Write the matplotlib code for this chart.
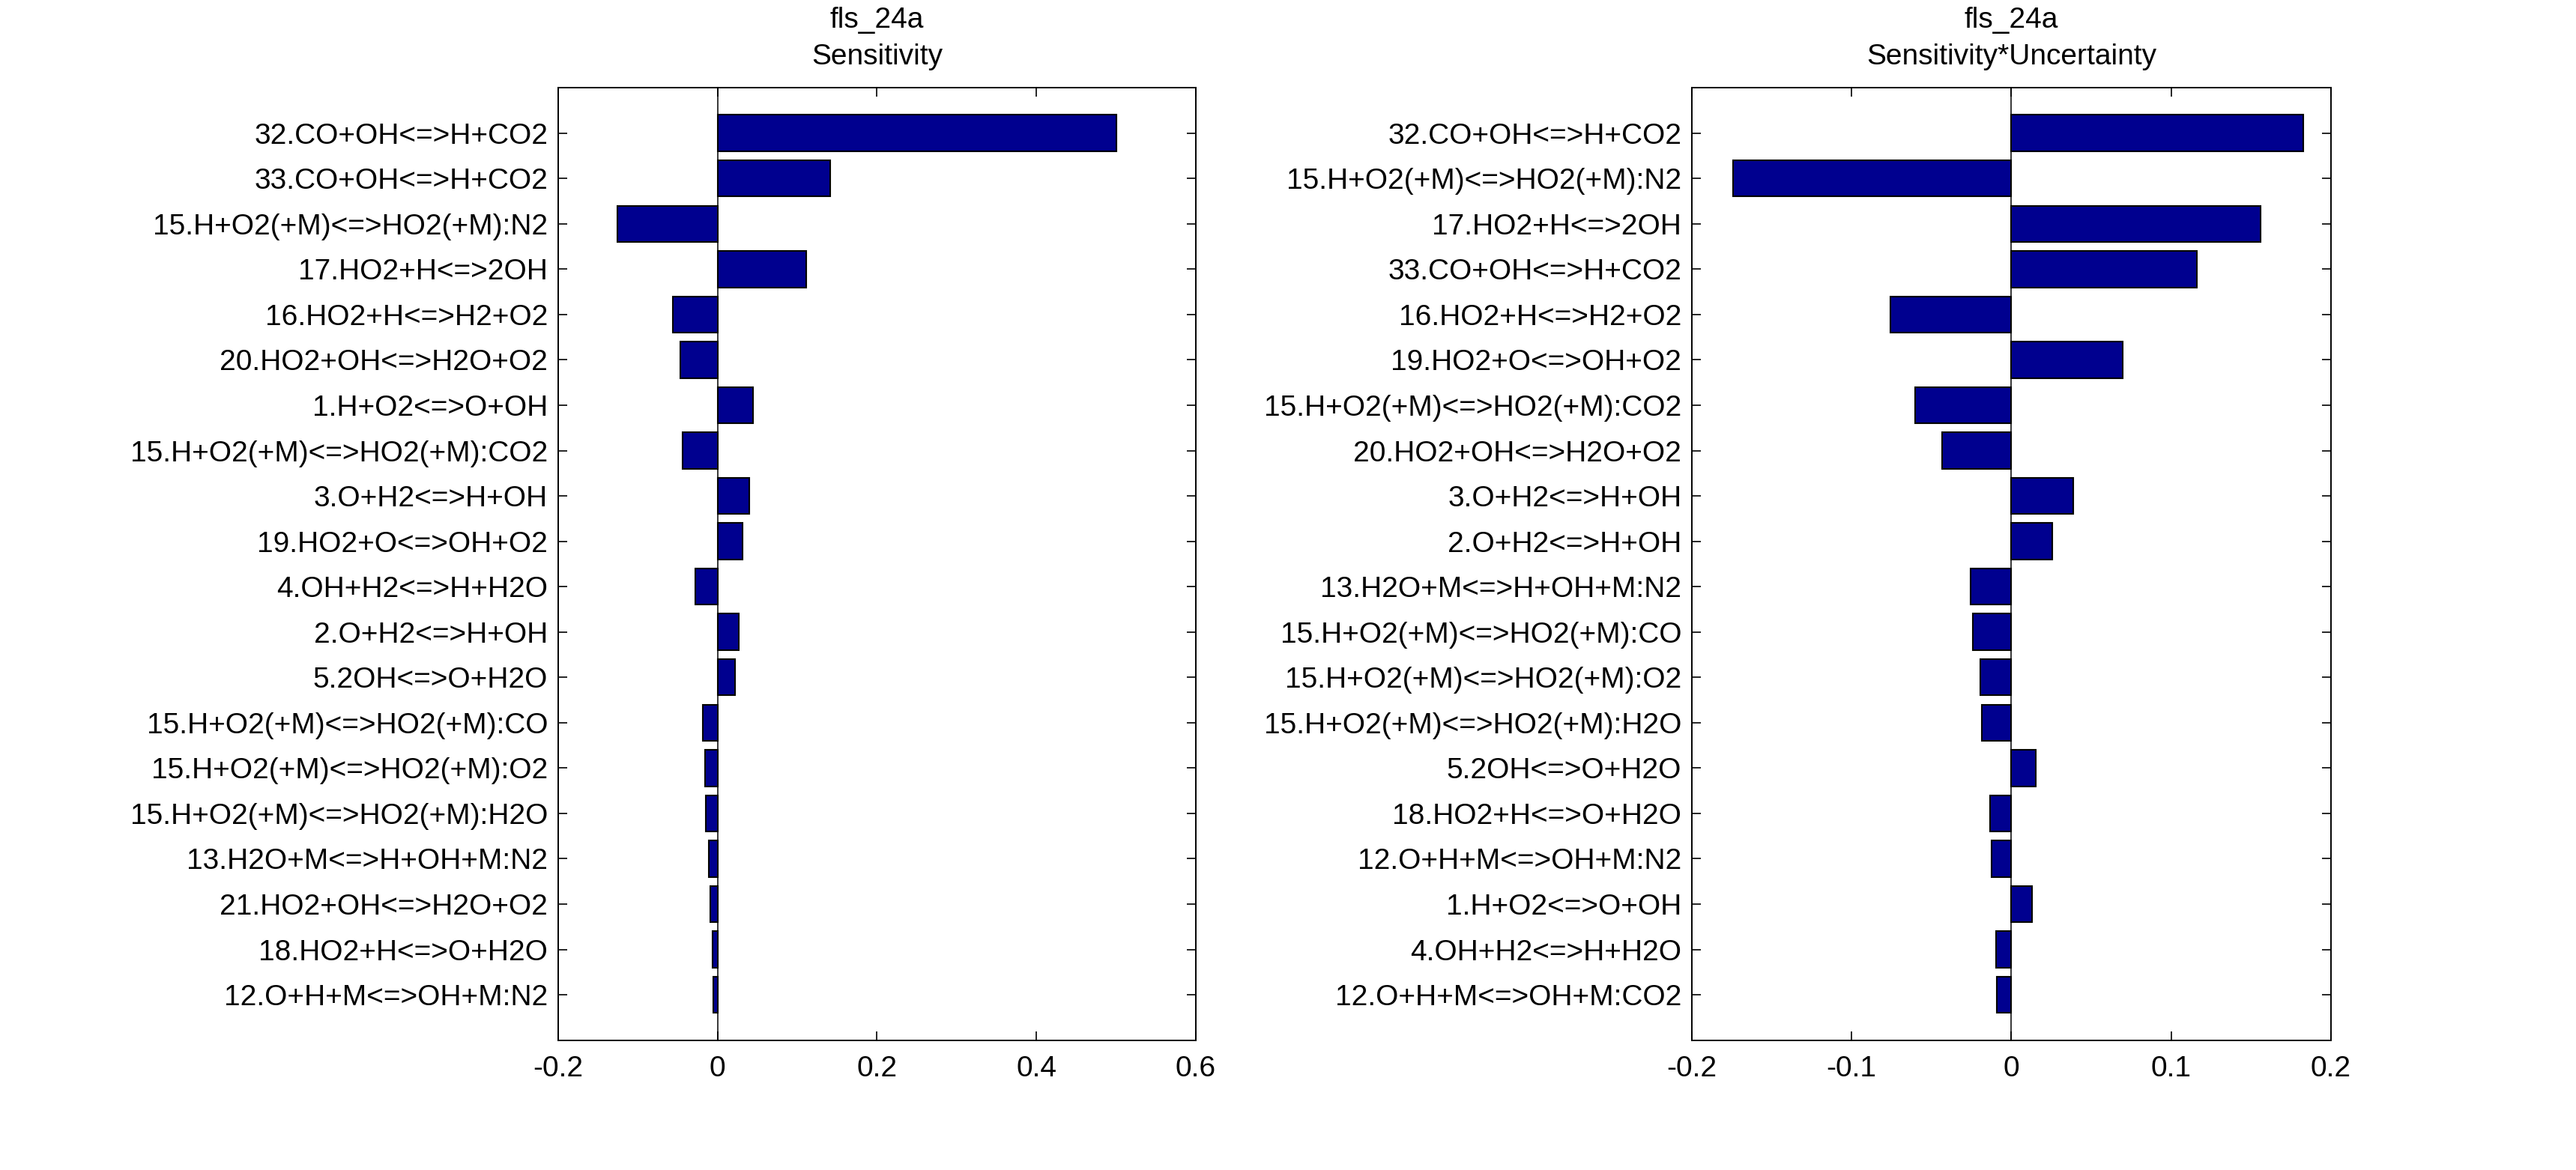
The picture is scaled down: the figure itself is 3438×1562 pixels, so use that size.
import numpy as np
import matplotlib
matplotlib.use("Agg")
import matplotlib.pyplot as plt

plt.rcParams['font.family'] = ['Liberation Sans', 'DejaVu Sans']

# left panel: Sensitivity
sens_labels = [
    "32.CO+OH<=>H+CO2", "33.CO+OH<=>H+CO2", "15.H+O2(+M)<=>HO2(+M):N2",
    "17.HO2+H<=>2OH", "16.HO2+H<=>H2+O2", "20.HO2+OH<=>H2O+O2",
    "1.H+O2<=>O+OH", "15.H+O2(+M)<=>HO2(+M):CO2", "3.O+H2<=>H+OH",
    "19.HO2+O<=>OH+O2", "4.OH+H2<=>H+H2O", "2.O+H2<=>H+OH",
    "5.2OH<=>O+H2O", "15.H+O2(+M)<=>HO2(+M):CO", "15.H+O2(+M)<=>HO2(+M):O2",
    "15.H+O2(+M)<=>HO2(+M):H2O", "13.H2O+M<=>H+OH+M:N2", "21.HO2+OH<=>H2O+O2",
    "18.HO2+H<=>O+H2O", "12.O+H+M<=>OH+M:N2",
]
sens_values = [0.500, 0.141, -0.126, 0.111, -0.056, -0.047, 0.044, -0.044,
               0.040, 0.031, -0.028, 0.027, 0.022, -0.019, -0.0155, -0.0144,
               -0.011, -0.0093, -0.0062, -0.0052]

# right panel: Sensitivity*Uncertainty
su_labels = [
    "32.CO+OH<=>H+CO2", "15.H+O2(+M)<=>HO2(+M):N2", "17.HO2+H<=>2OH",
    "33.CO+OH<=>H+CO2", "16.HO2+H<=>H2+O2", "19.HO2+O<=>OH+O2",
    "15.H+O2(+M)<=>HO2(+M):CO2", "20.HO2+OH<=>H2O+O2", "3.O+H2<=>H+OH",
    "2.O+H2<=>H+OH", "13.H2O+M<=>H+OH+M:N2", "15.H+O2(+M)<=>HO2(+M):CO",
    "15.H+O2(+M)<=>HO2(+M):O2", "15.H+O2(+M)<=>HO2(+M):H2O", "5.2OH<=>O+H2O",
    "18.HO2+H<=>O+H2O", "12.O+H+M<=>OH+M:N2", "1.H+O2<=>O+OH",
    "4.OH+H2<=>H+H2O", "12.O+H+M<=>OH+M:CO2",
]
su_values = [0.183, -0.174, 0.156, 0.116, -0.0758, 0.0696, -0.0603, -0.0433,
             0.0387, 0.0258, -0.0253, -0.0242, -0.0196, -0.0186, 0.0155,
             -0.0134, -0.0124, 0.0129, -0.0098, -0.0093]

sens_xticks = [-0.2, 0, 0.2, 0.4, 0.6]
sens_xticklabels = ["-0.2", "0", "0.2", "0.4", "0.6"]
su_xticks = [-0.2, -0.1, 0, 0.1, 0.2]
su_xticklabels = ["-0.2", "-0.1", "0", "0.1", "0.2"]

run_name = "fls_24a"
bar_color = "#00008F"
fs = 28

fig = plt.figure(figsize=(34.38, 15.62), dpi=100)
fig.set_facecolor("white")

panels = [
    ([0.2167, 0.111, 0.2475, 0.814], sens_labels, sens_values, sens_xticks,
     sens_xticklabels, "Sensitivity"),
    ([0.6568, 0.111, 0.2480, 0.814], su_labels, su_values, su_xticks,
     su_xticklabels, "Sensitivity*Uncertainty"),
]

for pos, labels, values, xticks, xticklabels, subtitle in panels:
    ax = fig.add_axes(pos)
    y = np.arange(1, len(values) + 1)
    ax.barh(y, values, height=0.8, color=bar_color, edgecolor="black",
            linewidth=1.5, zorder=2)
    ax.axvline(0, color="black", linewidth=1.1, zorder=3)
    ax.set_xlim(xticks[0], xticks[-1])
    ax.set_ylim(len(values) + 1, 0)
    ax.set_xticks(xticks)
    ax.set_xticklabels(xticklabels)
    ax.set_yticks(y)
    ax.set_yticklabels(labels)
    ax.tick_params(axis="both", direction="in", length=8.6, width=1.2,
                   labelsize=fs, top=True, right=True)
    ax.tick_params(axis="x", pad=15)
    ax.tick_params(axis="y", pad=10)
    for sp in ax.spines.values():
        sp.set_linewidth(1.4)
        sp.set_color("black")
    ax.set_title(run_name + "\n" + subtitle, fontsize=fs, va="bottom", pad=17,
                 linespacing=1.45)

fig.savefig("out.png", dpi=100)
